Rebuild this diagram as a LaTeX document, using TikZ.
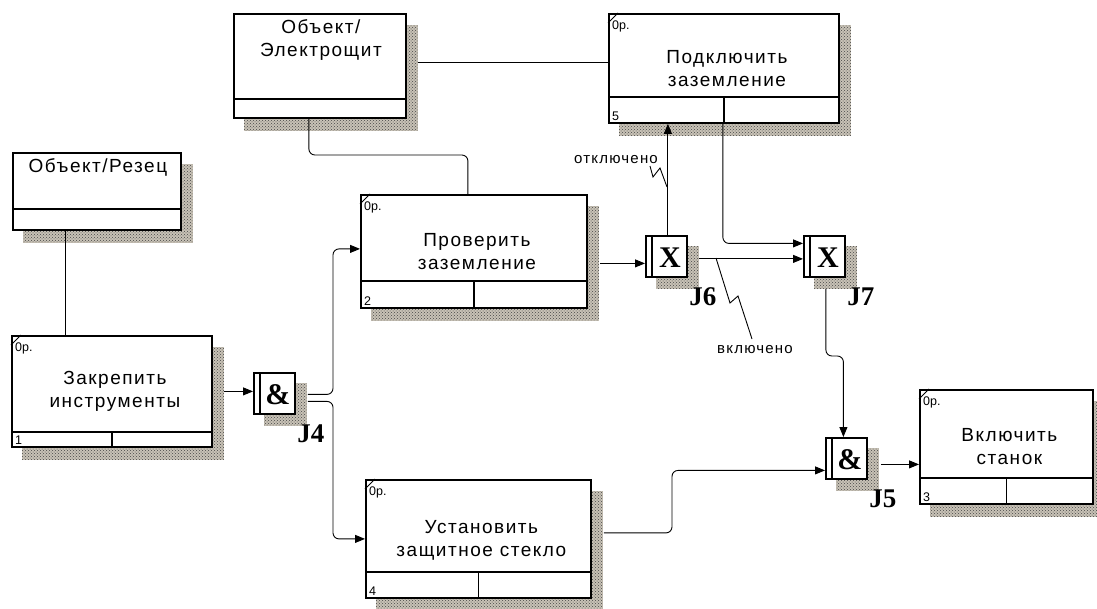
\documentclass[tikz,border=0pt]{standalone}
\usepackage{fontspec}
\setmainfont{Liberation Sans}
\newfontfamily\boxfont{Liberation Sans}[LetterSpace=8]
\newfontfamily\jfont{Liberation Serif}
\usetikzlibrary{patterns,backgrounds,calc,arrows.meta}
\definecolor{shbase}{RGB}{200,194,182}
\definecolor{shdot}{RGB}{70,70,70}
\tikzset{
 uobbox/.style={draw, line width=1.8pt, fill=white, inner sep=0pt, anchor=north west, rectangle},
 bline/.style={line width=1.8pt},
 ln/.style={line width=0.9pt},
 arr/.style={ln, -{Triangle[length=10pt,width=8pt]}},
 boxtxt/.style={font=\boxfont\fontsize{19}{23}\selectfont, inner sep=0pt, align=center},
 smalltxt/.style={font=\fontsize{12.5}{14}\selectfont, inner sep=0pt},
 lbltxt/.style={font=\boxfont\fontsize{15}{18}\selectfont, inner sep=0pt},
 jlbl/.style={font=\jfont\bfseries\fontsize{27}{30}\selectfont, inner sep=0pt},
 jsym/.style={font=\jfont\bfseries\fontsize{30}{31}\selectfont, inner sep=0pt},
}
\newcommand\mkshadow[3]{%
 \begin{scope}[on background layer]
 \fill[shbase] ($(#1.north west)+(#2,#3)$) rectangle ($(#1.south east)+(#2,#3)$);
 \path[pattern=crosshatch dots, pattern color=shdot] ($(#1.north west)+(#2,#3)$) rectangle ($(#1.south east)+(#2,#3)$);
 \end{scope}}
% name, x, y, w, h, bottom row height, number, text offset from top, text
\newcommand\procbox[9]{%
 \node[uobbox, minimum width=#4pt, minimum height=#5pt] (#1) at (#2,#3) {};
 \draw[bline] ($(#1.south west)+(0,-#6)$) -- ($(#1.south east)+(0,-#6)$);
 \draw[bline] ($(#1.south)+(0,-#6)$) -- (#1.south);
 \draw[line width=1pt] ($(#1.north west)+(0,10)$) -- ($(#1.north west)+(10,0)$);
 \node[smalltxt, anchor=west] at ($(#1.north west)+(4,13)$) {0р.};
 \node[smalltxt, anchor=west] at ($(#1.south west)+(4,-8)$) {#7};
 \node[boxtxt] at ($(#1.north)+(3,#8)$) {#9};
 \mkshadow{#1}{11}{12}}
% name, x, y, w, h, bottom row height, text offset, text
\newcommand\objbox[8]{%
 \node[uobbox, minimum width=#4pt, minimum height=#5pt] (#1) at (#2,#3) {};
 \draw[bline] ($(#1.south west)+(0,-#6)$) -- ($(#1.south east)+(0,-#6)$);
 \node[boxtxt] at ($(#1.north)+(1,#7)$) {#8};
 \mkshadow{#1}{11}{12}}
% name, x, y, symbol, label
\newcommand\junc[5]{%
 \node[uobbox, minimum width=41pt, minimum height=41pt] (#1) at (#2,#3) {};
 \draw[line width=1.2pt] ($(#1.north west)+(7,0)$) -- ($(#1.south west)+(7,0)$);
 \node[jsym] at ($(#1.center)+(3.5,1)$) {#4};
 \node[jlbl] at ($(#1.south east)+(15,19)$) {#5};
 \mkshadow{#1}{11}{11}}
\begin{document}
\begin{tikzpicture}[x=1pt,y=-1pt]
\useasboundingbox (0,0) rectangle (1097,608);

\objbox{rez}{12}{152}{168}{77}{22}{15}{Объект/Резец}
\objbox{el}{233}{13}{172}{104}{20}{27}{Объект/\\Электрощит}

\procbox{b1}{11}{335}{200}{111}{16}{1}{56}{Закрепить\\инструменты}
\procbox{pr}{360}{194}{226}{113}{28}{2}{57.5}{Проверить\\заземление}
\procbox{us}{365}{479}{225}{118}{27}{4}{61}{Установить\\защитное стекло}
\procbox{pod}{608}{13}{230}{109}{27}{5}{56}{Подключить\\заземление}
\procbox{vk}{919}{389}{173}{114}{27}{3}{57.5}{Включить\\станок}

\junc{J4}{253}{372}{\&}{J4}
\junc{J6}{645}{235}{X}{J6}
\junc{J7}{803}{235}{X}{J7}
\junc{J5}{825}{437}{\&}{J5}

% Резец -> Закрепить
\draw[ln] ($(rez.south west)+(53,0)$) coordinate (r1) -- (r1 |- b1.north);
% Закрепить -> J4
\coordinate (t) at ($(J4.west)+(0,-2)$);
\coordinate (s) at ($(b1.east)+(11,0)$);
\draw[arr] (s |- t) -- (t);
% J4 -> Проверить
\coordinate (s) at ($(J4.east)+(12,1)$);
\coordinate (t) at ($(pr.west)+(0,-2.5)$);
\draw[arr, rounded corners=6] (s) -| ($(t)+(-27,0)$) -- (t);
% J4 -> Установить
\coordinate (s) at ($(J4.east)+(12,8)$);
\coordinate (t) at (us.west);
\draw[arr, rounded corners=6] (s) -| ($(t)+(-32,0)$) -- (t);
% Электрощит -> Проверить
\coordinate (s) at ($(el.south)+(-11,0)$);
\coordinate (t) at ($(pr.north)+(-6,0)$);
\draw[ln, rounded corners=6] (s) |- ($(t)+(0,-39)$) -- (t);
% Электрощит -> Подключить
\coordinate (s) at ($(el.east)+(11,-3)$);
\draw[ln] (s) -- (s -| pod.west);
% Проверить -> J6
\coordinate (t) at ($(J6.west)+(0,7)$);
\coordinate (s) at ($(pr.east)+(12,0)$);
\draw[arr] (s |- t) -- (t);
% J6 -> Подключить
\draw[arr] ($(J6.north)+(1.5,0)$) coordinate (s) -- (s |- pod.south);
% Подключить -> J7
\coordinate (t) at ($(J7.west)+(0,-13)$);
\draw[arr, rounded corners=6] ($(pod.south)+(-1,0)$) |- (t);
% J6 -> J7
\coordinate (t) at ($(J7.west)+(0,2.5)$);
\coordinate (s) at ($(J6.east)+(11,0)$);
\draw[arr] (s |- t) -- (t);
% J7 -> J5
\coordinate (s) at ($(J7.south)+(1.5,11)$);
\coordinate (t) at ($(J5.north)+(-3,0)$);
\draw[arr, rounded corners=6] (s) |- ($(t)+(0,-81)$) -- (t);
% Установить -> J5
\coordinate (t) at ($(J5.west)+(0,12)$);
\coordinate (s) at ($(us.east)+(12,-6)$);
\draw[arr, rounded corners=6] (s) -| ($(t)+(-153,0)$) -- (t);
% J5 -> Включить
\coordinate (s) at ($(J5.east)+(13,6)$);
\draw[arr] (s) -- (s -| vk.west);

% labels
\node[lbltxt] (lo) at (616,160) {отключено};
\node[lbltxt] (lv) at (755,350) {включено};
\draw[ln] (650,166) -- (653,177) -- (660,168) -- (667,187);
\draw[ln] (716,258) -- (730,303) -- (738,296) -- (752,339);
\end{tikzpicture}
\end{document}
